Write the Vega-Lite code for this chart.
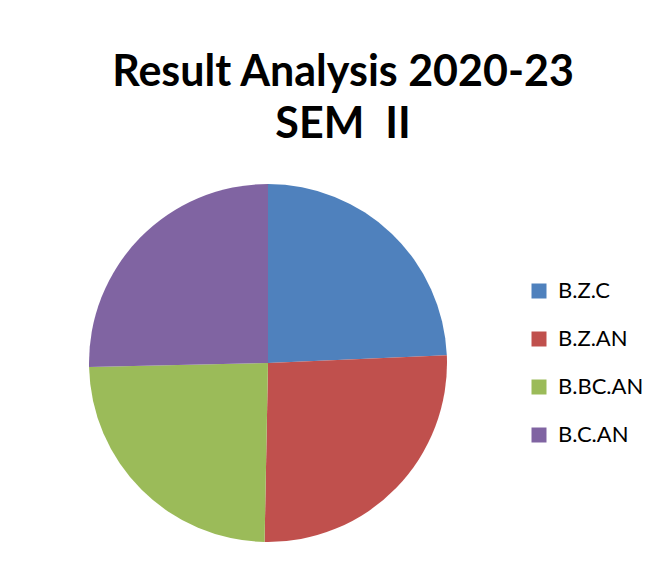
{
  "$schema": "https://vega.github.io/schema/vega-lite/v6.json",
  "autosize": "none",
  "width": 536,
  "height": 358,
  "padding": {"left": 0, "top": 184, "right": 121, "bottom": 29},
  "background": "white",
  "title": {
    "text": ["Result Analysis 2020-23", "SEM\u00a0 II"],
    "font": "Lato",
    "fontSize": 43,
    "fontWeight": "bold",
    "color": "#000000",
    "anchor": "middle",
    "frame": "group",
    "dx": 75,
    "lineHeight": 52,
    "offset": 37
  },
  "data": {
    "values": [
      {"course": "B.Z.C", "value": 87.5, "idx": 1},
      {"course": "B.Z.AN", "value": 93.6, "idx": 2},
      {"course": "B.BC.AN", "value": 87.6, "idx": 3},
      {"course": "B.C.AN", "value": 91.3, "idx": 4}
    ]
  },
  "mark": {"type": "arc", "stroke": null},
  "encoding": {
    "theta": {"field": "value", "type": "quantitative", "stack": true},
    "order": {"field": "idx", "type": "quantitative"},
    "color": {
      "field": "course",
      "type": "nominal",
      "sort": ["B.Z.C", "B.Z.AN", "B.BC.AN", "B.C.AN"],
      "scale": {
        "domain": ["B.Z.C", "B.Z.AN", "B.BC.AN", "B.C.AN"],
        "range": ["#4F81BD", "#C0504D", "#9BBB59", "#8064A2"]
      },
      "legend": {
        "title": null,
        "orient": "none",
        "legendX": 528,
        "legendY": 96,
        "symbolType": "square",
        "symbolSize": 225,
        "symbolStrokeWidth": 0,
        "labelFont": "Lato",
        "labelFontSize": 22,
        "labelColor": "#000000",
        "labelOffset": 8,
        "rowPadding": 26
      }
    }
  },
  "config": {"view": {"stroke": null}}
}
